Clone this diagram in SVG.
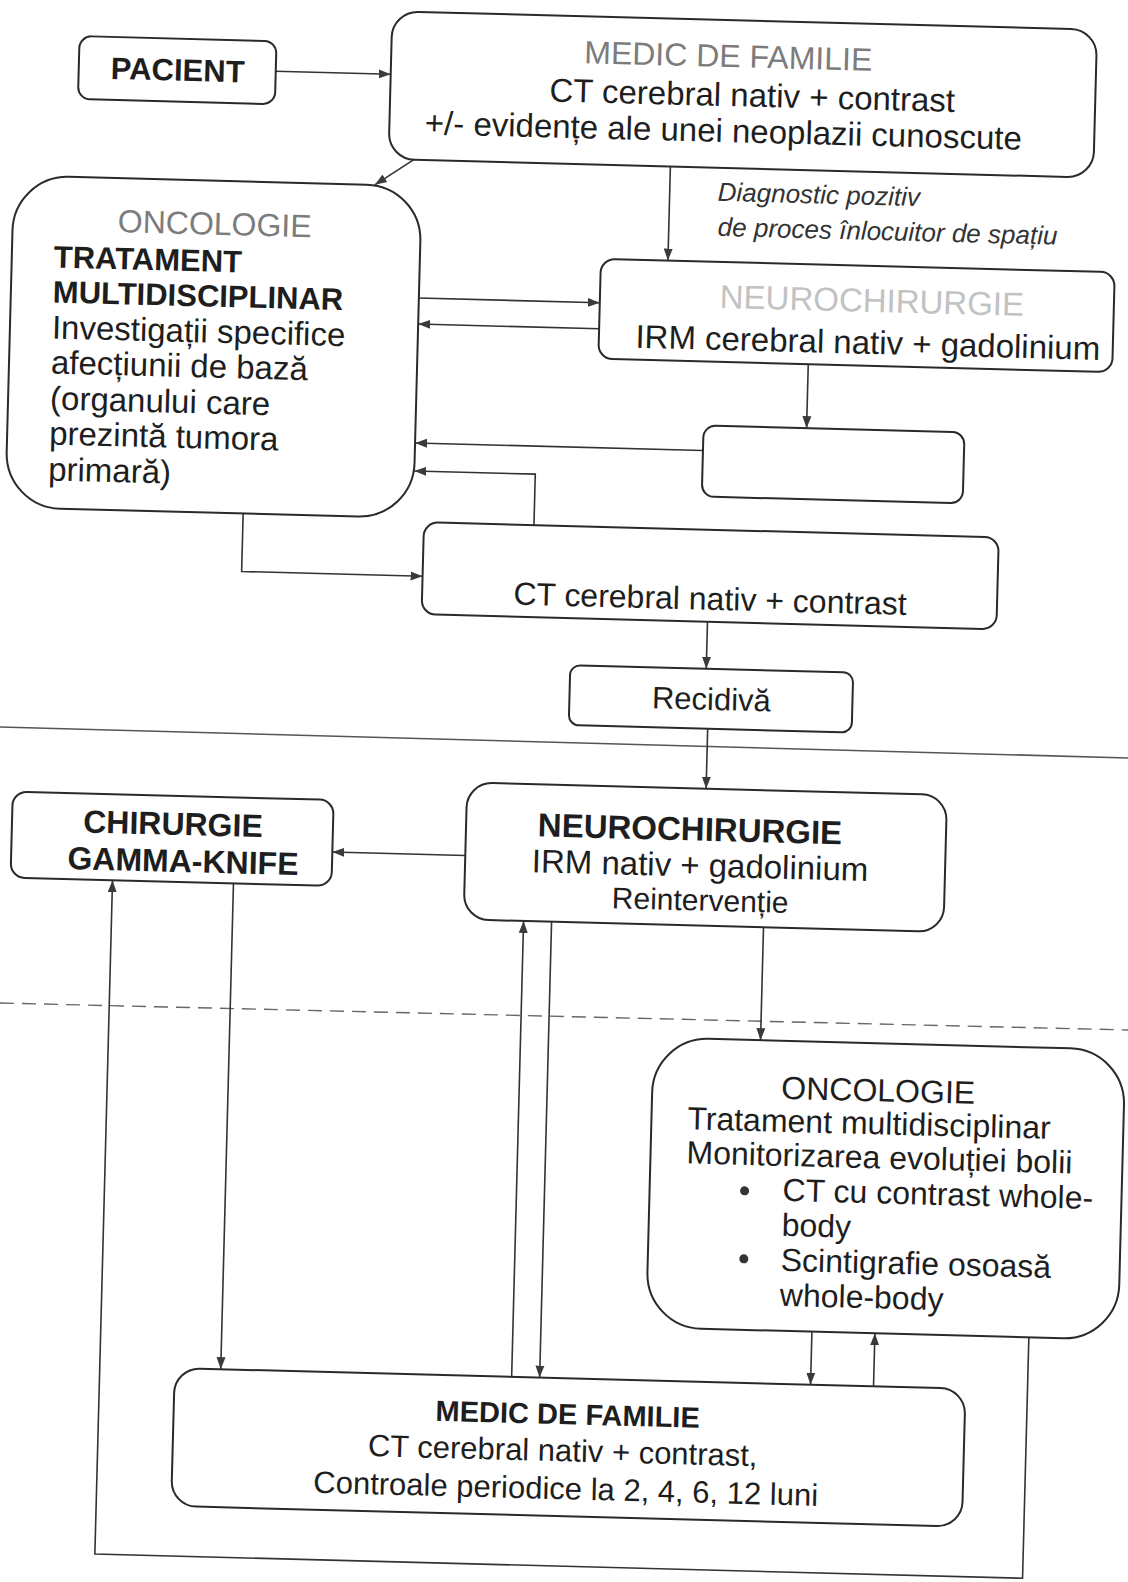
<svg xmlns="http://www.w3.org/2000/svg" width="1128" height="1582" viewBox="0 0 1128 1582">
<defs>
  <marker id="arrow" viewBox="0 0 12 10" refX="12" refY="5" markerWidth="12" markerHeight="10" markerUnits="userSpaceOnUse" orient="auto">
    <path d="M0,0.5 L12,5 L0,9.5 z" fill="#3a3a3a"/>
  </marker>
</defs>
<style>
  .box{fill:#fff;stroke:#2a2a2a;stroke-width:2}
  .t{font-family:"Liberation Sans",Arial,sans-serif;font-size:32px;fill:#1e1e1e}
  .c{text-anchor:middle}
  .b{font-weight:bold}
  .faded{fill:#7c7c7c}
  .ghost{fill:#c2c2c2}
  .it{font-style:italic;font-size:26px;fill:#333}
  .edge{fill:none;stroke:#333;stroke-width:1.6;marker-end:url(#arrow)}
  .plain{fill:none;stroke:#333;stroke-width:1.6}
</style>
<rect width="1128" height="1582" fill="#fff"/>

<!-- page rulings -->
<line x1="0" y1="727" x2="1128" y2="758" stroke="#555" stroke-width="1.6"/>
<line x1="0" y1="1003" x2="1128" y2="1030" stroke="#666" stroke-width="1.4" stroke-dasharray="14 8"/>

<g transform="rotate(1.5 564 791)">
  <!-- connectors -->
  <g id="connectors">
    <path class="edge" d="M257,79 H372"/>
    <path class="edge" d="M400,162 L359,190"/>
    <path class="edge" d="M654,164 V258"/>
    <path class="edge" d="M406,302 H587"/>
    <path class="edge" d="M587,328 H406"/>
    <path class="edge" d="M797,358 V422"/>
    <path class="edge" d="M694,447 H406"/>
    <path class="edge" d="M527,526 V475 H406"/>
    <path class="edge" d="M236,522 V580 H417"/>
    <path class="edge" d="M703,618 V665"/>
    <path class="edge" d="M706,725 V785"/>
    <path class="edge" d="M467,858 H334"/>
    <path class="edge" d="M236,892 V1378"/>
    <path class="edge" d="M527,1378 V922"/>
    <path class="edge" d="M555,922 V1378"/>
    <path class="edge" d="M767,922 V1035"/>
    <path class="edge" d="M826,1325 V1378"/>
    <path class="edge" d="M889,1378 V1325"/>
    <path class="edge" d="M1043,1325 V1566 H115 V892"/>
  </g>

  <g id="pacient">
    <rect class="box" x="60" y="49" width="197" height="63" rx="12"/>
    <text class="t c b" x="159" y="91" style="font-size:31px">PACIENT</text>
  </g>

  <g id="medic-familie-1">
    <rect class="box" x="372" y="16" width="705" height="148" rx="26"/>
    <text class="t c faded" x="709" y="63">MEDIC DE FAMILIE</text>
    <text class="t c" x="734" y="102" style="font-size:33px">CT cerebral nativ + contrast</text>
    <text class="t c" x="706" y="138" style="font-size:33px">+/- evidențe ale unei neoplazii cunoscute</text>
  </g>

  <g id="diagnostic-label">
    <text class="t it" x="702" y="197">Diagnostic pozitiv</text>
    <text class="t it" x="703" y="232">de proces înlocuitor de spațiu</text>
  </g>

  <g id="oncologie-1">
    <rect class="box" x="-2" y="190" width="408" height="332" rx="55"/>
    <text class="t c faded" x="200" y="244">ONCOLOGIE</text>
    <text class="t b" x="40" y="281" style="font-size:31px">TRATAMENT</text>
    <text class="t b" x="40" y="316" style="font-size:31px">MULTIDISCIPLINAR</text>
    <text class="t" x="40" y="352" style="font-size:33px">Investigații specifice</text>
    <text class="t" x="40" y="387" style="font-size:33px">afecțiunii de bază</text>
    <text class="t" x="40" y="423" style="font-size:33px">(organului care</text>
    <text class="t" x="40" y="458" style="font-size:33px">prezintă tumora</text>
    <text class="t" x="40" y="494" style="font-size:33px">primară)</text>
  </g>

  <g id="neurochirurgie-1">
    <rect class="box" x="587" y="258" width="514" height="100" rx="14"/>
    <text class="t c ghost" x="859" y="304" style="font-size:33px">NEUROCHIRURGIE</text>
    <text class="t c" x="856" y="346" style="font-size:33px">IRM cerebral nativ + gadolinium</text>
  </g>

  <g id="empty-node">
    <rect class="box" x="694" y="422" width="261" height="71" rx="12"/>
  </g>

  <g id="ct-control">
    <rect class="box" x="417" y="526" width="575" height="92" rx="14"/>
    <text class="t c" x="705" y="606">CT cerebral nativ + contrast</text>
  </g>

  <g id="recidiva">
    <rect class="box" x="567" y="665" width="283" height="60" rx="10"/>
    <text class="t c" x="709" y="706" style="font-size:31px">Recidivă</text>
  </g>

  <g id="neurochirurgie-2">
    <rect class="box" x="467" y="785" width="480" height="137" rx="25"/>
    <text class="t c b" x="691" y="837" style="font-size:33px">NEUROCHIRURGIE</text>
    <text class="t c" x="702" y="873" style="font-size:33px">IRM nativ + gadolinium</text>
    <text class="t c" x="703" y="907" style="font-size:30px">Reintervenție</text>
  </g>

  <g id="chirurgie-gamma-knife">
    <rect class="box" x="13" y="806" width="321" height="86" rx="14"/>
    <text class="t c b" x="174" y="845">CHIRURGIE</text>
    <text class="t c b" x="185" y="882">GAMMA-KNIFE</text>
  </g>

  <g id="oncologie-2">
    <rect class="box" x="660" y="1035" width="472" height="290" rx="55"/>
    <text class="t c" x="886" y="1093">ONCOLOGIE</text>
    <text class="t" x="696" y="1126">Tratament multidisciplinar</text>
    <text class="t" x="696" y="1160">Monitorizarea evoluției bolii</text>
    <circle cx="755" cy="1186" r="4.5" fill="#333"/>
    <text class="t" x="793" y="1195">CT cu contrast whole-</text>
    <text class="t" x="793" y="1230">body</text>
    <circle cx="756" cy="1254" r="4.5" fill="#333"/>
    <text class="t" x="793" y="1265">Scintigrafie osoasă</text>
    <text class="t" x="793" y="1300">whole-body</text>
  </g>

  <g id="medic-familie-2">
    <rect class="box" x="190" y="1378" width="791" height="138" rx="25"/>
    <text class="t c b" x="584" y="1424" style="font-size:29px">MEDIC DE FAMILIE</text>
    <text class="t c" x="580" y="1461" style="font-size:31px">CT cerebral nativ + contrast,</text>
    <text class="t c" x="584" y="1499" style="font-size:31px">Controale periodice la 2, 4, 6, 12 luni</text>
  </g>
</g>
</svg>
